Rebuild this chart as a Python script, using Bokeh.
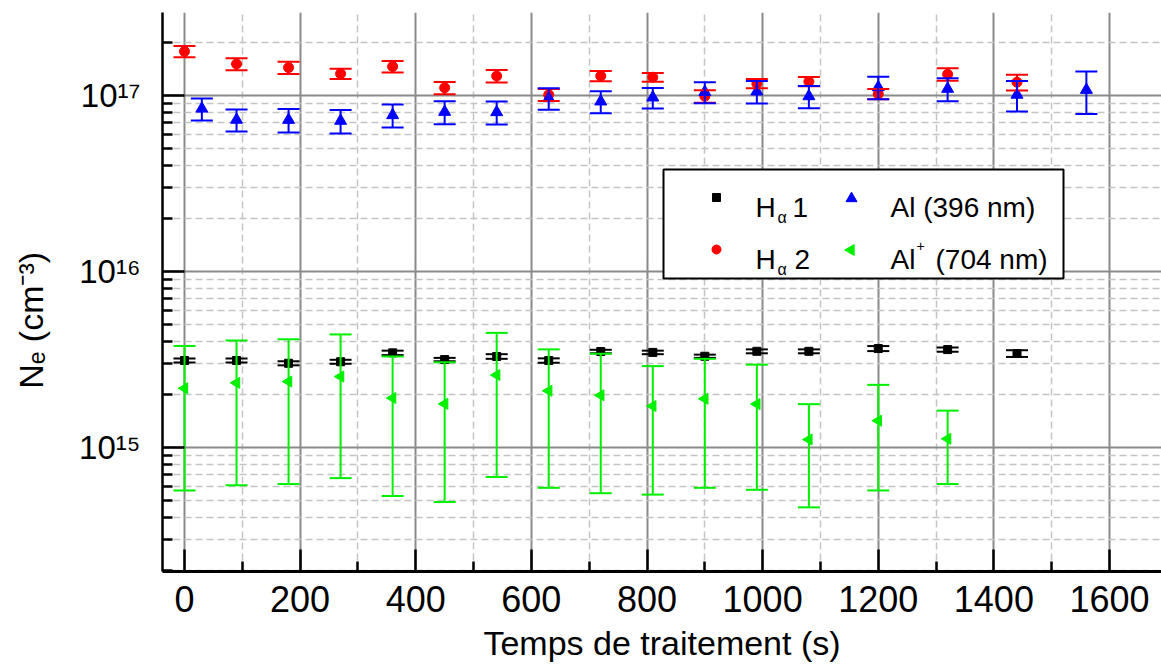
import numpy as np
from bokeh.plotting import figure
from bokeh.models import (Range1d, FixedTicker, Whisker, TeeHead, ColumnDataSource,
                          Label, BoxAnnotation, CustomJSTickFormatter)
from bokeh.embed import file_html
from bokeh.resources import INLINE

# ---------------- data ----------------
t_h1 = [0, 90, 180, 270, 360, 450, 540, 630, 720, 810, 900, 990, 1080, 1200, 1320, 1440]
ne_h1 = [3.12, 3.12, 3.01, 3.07, 3.45, 3.16, 3.29, 3.12, 3.51, 3.47, 3.30, 3.52, 3.52, 3.65, 3.60, 3.42]   # x1e15
err_h1 = [0.08, 0.08, 0.08, 0.08, 0.10, 0.07, 0.10, 0.09, 0.08, 0.08, 0.07, 0.09, 0.09, 0.12, 0.10, 0.15]  # x1e15

t_h2 = [0, 90, 180, 270, 360, 450, 540, 630, 720, 810, 900, 990, 1080, 1200, 1320, 1440]
ne_h2 = [1.78, 1.51, 1.44, 1.33, 1.46, 1.106, 1.29, 1.01, 1.29, 1.27, 0.99, 1.17, 1.20, 1.02, 1.32, 1.19]  # x1e17
err_h2 = [0.13, 0.12, 0.115, 0.09, 0.11, 0.088, 0.105, 0.078, 0.087, 0.074, 0.081, 0.071, 0.073, 0.069, 0.108, 0.123]  # x1e17

t_al = [30, 90, 180, 270, 360, 450, 540, 630, 720, 810, 900, 990, 1080, 1200, 1320, 1440, 1560]
ne_al = [8.42, 7.28, 7.27, 7.18, 7.73, 8.07, 8.04, 9.65, 9.25, 9.74, 10.47, 10.54, 9.90, 11.14, 10.91, 10.1, 10.76]  # x1e16
err_al = [1.20, 1.04, 1.10, 1.09, 1.16, 1.21, 1.20, 1.35, 1.32, 1.30, 1.43, 1.53, 1.44, 1.62, 1.63, 1.99, 2.92]  # x1e16

t_alp = [0, 90, 180, 270, 360, 450, 540, 630, 720, 810, 900, 990, 1080, 1200, 1320]
ne_alp = [2.17, 2.33, 2.37, 2.53, 1.91, 1.77, 2.58, 2.10, 1.98, 1.72, 1.89, 1.765, 1.11, 1.42, 1.12]  # x1e15
err_alp = [1.60, 1.72, 1.75, 1.86, 1.38, 1.28, 1.90, 1.51, 1.43, 1.18, 1.30, 1.19, 0.653, 0.85, 0.50]  # x1e15

x_ticks = [0, 200, 400, 600, 800, 1000, 1200, 1400, 1600]
x_minor = [100, 300, 500, 700, 900, 1100, 1300, 1500]
y_ticks = [1e15, 1e16, 1e17]
y_tick_labels = ["10\u00b9\u2075", "10\u00b9\u2076", "10\u00b9\u2077"]   # 10^15, 10^16, 10^17

x_label = "Temps de traitement (s)"
y_label = "N\u2091 (cm\u207b\u00b3)"   # N_e (cm^-3)

# ---------------- geometry (page px) ----------------
W, H = 1161, 664
FL, FT, FR, FB = 162, 12, 1161, 571          # frame edges
PX_X0, PX_PER_UNIT = 184.0, 925.0 / 1600.0   # px of x=0, px per second
PX_1E17, PX_PER_DEC = 95.0, 176.0            # px of 1e17, px per decade


def dx(px):   # page px -> data x
    return (px - PX_X0) / PX_PER_UNIT


def dy(py):   # page px -> data y
    return 10 ** (17 - (py - PX_1E17) / PX_PER_DEC)


X0, X1 = dx(FL), dx(FR)
Y0, Y1 = dy(FB), dy(FT)

FONT = "Liberation Sans"

p = figure(width=W, height=H, x_range=Range1d(X0, X1), y_range=Range1d(Y0, Y1),
           y_axis_type="log", output_backend="svg", toolbar_location=None,
           min_border_left=FL, min_border_right=W - FR, min_border_top=FT,
           min_border_bottom=H - FB)
p.outline_line_color = None
p.background_fill_color = "white"
p.border_fill_color = "white"

y_minor = [k * 10 ** n for n in range(14, 18) for k in range(2, 10) if Y0 <= k * 10 ** n <= Y1]

# x axis
xa = p.xaxis[0]
xa.ticker = FixedTicker(ticks=x_ticks, minor_ticks=x_minor)
xa.axis_line_width = 3
xa.major_tick_line_width = 2.5
xa.minor_tick_line_width = 2.5
xa.major_tick_in = 22
xa.major_tick_out = 0
xa.minor_tick_in = 10
xa.minor_tick_out = 0
xa.major_label_text_font = FONT
xa.major_label_text_font_size = "36px"
xa.major_label_text_color = "black"
xa.major_label_standoff = 14
xa.axis_label = x_label
xa.axis_label_text_font = FONT
xa.axis_label_text_font_size = "34px"
xa.axis_label_text_font_style = "normal"
xa.axis_label_text_color = "black"
xa.axis_label_standoff = 9

# y axis
ya = p.yaxis[0]
ya.ticker = FixedTicker(ticks=y_ticks, minor_ticks=y_minor)
ya.formatter = CustomJSTickFormatter(
    args=dict(vals=y_ticks, labs=y_tick_labels),
    code="""
const i = vals.findIndex(v => Math.abs(Math.log10(v) - Math.log10(tick)) < 1e-6);
return i >= 0 ? labs[i] : '';
""")
ya.axis_line_width = 2.5
ya.major_tick_line_width = 2.5
ya.minor_tick_line_width = 2.5
ya.major_tick_in = 22
ya.major_tick_out = 0
ya.minor_tick_in = 10
ya.minor_tick_out = 0
ya.major_label_text_font = FONT
ya.major_label_text_font_size = "33px"
ya.major_label_text_color = "black"
ya.major_label_standoff = 22
# non-breaking padding moves the centred label down, as in the original
ya.axis_label = y_label + "\u00a0" * 6
ya.axis_label_text_font = FONT
ya.axis_label_text_font_size = "34px"
ya.axis_label_text_font_style = "normal"
ya.axis_label_text_color = "black"
ya.axis_label_standoff = 26

# grids
for g, tk in ((p.xgrid[0], FixedTicker(ticks=x_ticks, minor_ticks=x_minor)),
              (p.ygrid[0], FixedTicker(ticks=y_ticks, minor_ticks=y_minor))):
    g.ticker = tk
    g.grid_line_color = "#8a8a8a"
    g.grid_line_width = 2
    g.minor_grid_line_color = "#c4c4c4"
    g.minor_grid_line_width = 1.5
    g.minor_grid_line_dash = "7 4"


def add_series(t, v, e, scale, color, marker, size, angle=0.0):
    vals = [a * scale for a in v]
    up = [(a + b) * scale for a, b in zip(v, e)]
    lo = [(a - b) * scale for a, b in zip(v, e)]
    src = ColumnDataSource(dict(t=t, v=vals, up=up, lo=lo))
    w = Whisker(source=src, base="t", upper="up", lower="lo", dimension="height",
                line_color=color, line_width=2, level="glyph",
                upper_head=TeeHead(size=22, line_color=color, line_width=2),
                lower_head=TeeHead(size=22, line_color=color, line_width=2))
    p.add_layout(w)
    p.scatter("t", "v", source=src, marker=marker, size=size, angle=angle,
              fill_color=color, line_color=color)


GREEN = "#00f000"
add_series(t_h1, ne_h1, err_h1, 1e15, "black", "square", 8)
add_series(t_h2, ne_h2, err_h2, 1e17, "#ff0000", "circle", 10)
add_series(t_al, ne_al, err_al, 1e16, "#0000ff", "triangle", 12)
add_series(t_alp, ne_alp, err_alp, 1e15, GREEN, "triangle", 11, angle=np.pi / 2)


def lab(px, py, text, size, align="left"):
    p.add_layout(Label(x=dx(px), y=dy(py), text=text, text_font=FONT,
                       text_font_size=f"{size}px", text_color="black",
                       text_align=align, text_baseline="alphabetic",
                       level="overlay"))


# legend (box, keys, texts with sub/superscripts)
p.add_layout(BoxAnnotation(left=dx(663), right=dx(1063), top=dy(169), bottom=dy(278),
                           fill_color="white", fill_alpha=1.0, line_color="black",
                           line_alpha=1.0, line_width=2, level="annotation"))
p.scatter([dx(716)], [dy(197)], marker="square", size=8, color="black", level="overlay")
p.scatter([dx(716)], [dy(249)], marker="circle", size=9, color="#ff0000", level="overlay")
p.scatter([dx(851)], [dy(198)], marker="triangle", size=11, color="#0000ff", level="overlay")
p.scatter([dx(850.5)], [dy(249.5)], marker="triangle", size=11, angle=np.pi / 2,
          color=GREEN, level="overlay")
lab(755, 207, "H", 28)
lab(777, 217, "α", 16)
lab(792, 207, "1", 28)
lab(755, 259, "H", 28)
lab(777, 269, "α", 16)
lab(794, 259, "2", 28)
lab(890, 207, "Al (396 nm)", 28)
lab(890, 259, "Al", 28)
lab(916, 245, "+", 14)
lab(935, 259, "(704 nm)", 28)

open("out.html", "w").write(file_html(p, INLINE))
